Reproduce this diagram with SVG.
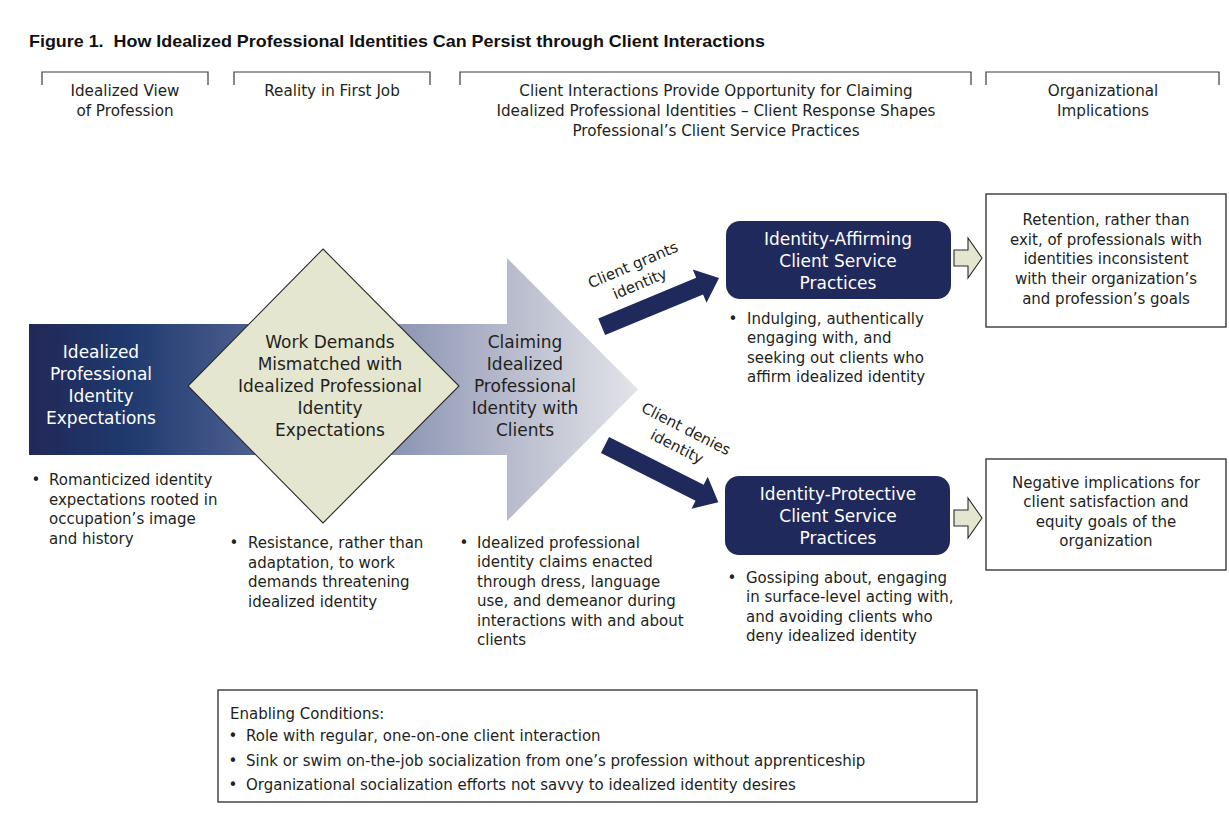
<svg xmlns="http://www.w3.org/2000/svg" width="1229" height="825" viewBox="0 0 1229 825">
  <defs>
    <style>
      .t{font-family:'DejaVu Sans','Liberation Sans',sans-serif;font-size:15px;fill:#231f20}
      .h{font-size:15.2px;text-anchor:middle}
      .m{text-anchor:middle}
      .n{font-size:17px;text-anchor:middle}
      .w{fill:#ffffff}
      .title{font-family:'Liberation Sans Narrow','Liberation Sans',Arial,sans-serif;font-weight:bold;font-size:17px;fill:#111}
      .rule{fill:none;stroke:#3a3a3a;stroke-width:1.2}
      .box{fill:#ffffff;stroke:#3a3a3a;stroke-width:1.4}
      .navy{fill:#1f295b}
      .khaki{fill:#e4e6d0;stroke:#2a2a2a;stroke-width:1.1}
    </style>
    <linearGradient id="flow" gradientUnits="userSpaceOnUse" x1="29" y1="0" x2="638" y2="0">
      <stop offset="0" stop-color="#222858"/>
      <stop offset="0.166" stop-color="#1f3a6e"/>
      <stop offset="0.33" stop-color="#45588a"/>
      <stop offset="0.494" stop-color="#6f7ca0"/>
      <stop offset="0.642" stop-color="#959db9"/>
      <stop offset="0.79" stop-color="#b7bbcc"/>
      <stop offset="1" stop-color="#e3e4e9"/>
    </linearGradient>
    <polygon id="thick-arrow" points="0,-9 106,-9 106,-18 127,0 106,18 106,9 0,9"/>
    <polygon id="hollow-arrow" points="0,-8 14,-8 14,-20 28,0 14,20 14,8 0,8"/>
  </defs>

  <rect width="1229" height="825" fill="#ffffff"/>

  <text class="title" x="29" y="47" textLength="736" lengthAdjust="spacingAndGlyphs" xml:space="preserve">Figure 1.  How Idealized Professional Identities Can Persist through Client Interactions</text>

  <!-- Column headings with bracket rules -->
  <g id="heading-idealized-view">
    <path class="rule" d="M42 85V72H208V85"/>
    <text class="t h" x="125" y="96">Idealized View</text>
    <text class="t h" x="125" y="116">of Profession</text>
  </g>
  <g id="heading-reality">
    <path class="rule" d="M234 85V72H430V85"/>
    <text class="t h" x="332" y="96">Reality in First Job</text>
  </g>
  <g id="heading-client-interactions">
    <path class="rule" d="M460 85V72H971V85"/>
    <text class="t h" x="716" y="96">Client Interactions Provide Opportunity for Claiming</text>
    <text class="t h" x="716" y="116">Idealized Professional Identities – Client Response Shapes</text>
    <text class="t h" x="716" y="136">Professional’s Client Service Practices</text>
  </g>
  <g id="heading-organizational">
    <path class="rule" d="M986 85V72H1219V85"/>
    <text class="t h" x="1103" y="96">Organizational</text>
    <text class="t h" x="1103" y="116">Implications</text>
  </g>

  <!-- Main flow band ending in a broad arrowhead -->
  <g id="flow-band">
    <polygon points="29,324 507,324 507,258 638,389.5 507,521 507,455 29,455" fill="url(#flow)"/>
  </g>

  <g id="node-idealized-expectations">
    <text class="t n w" x="101" y="358">Idealized</text>
    <text class="t n w" x="101" y="380">Professional</text>
    <text class="t n w" x="101" y="402">Identity</text>
    <text class="t n w" x="101" y="424">Expectations</text>
    <text class="t m" x="36" y="485">•</text>
    <text class="t" x="49" y="485">Romanticized identity</text>
    <text class="t" x="49" y="504.5">expectations rooted in</text>
    <text class="t" x="49" y="524">occupation’s image</text>
    <text class="t" x="49" y="543.5">and history</text>
  </g>

  <g id="node-work-demands">
    <polygon class="khaki" points="323,249 459,386 323,523 188,386"/>
    <text class="t n" x="330" y="348">Work Demands</text>
    <text class="t n" x="330" y="370">Mismatched with</text>
    <text class="t n" x="330" y="392">Idealized Professional</text>
    <text class="t n" x="330" y="414">Identity</text>
    <text class="t n" x="330" y="436">Expectations</text>
    <text class="t m" x="234" y="548">•</text>
    <text class="t" x="248" y="548">Resistance, rather than</text>
    <text class="t" x="248" y="567.5">adaptation, to work</text>
    <text class="t" x="248" y="587">demands threatening</text>
    <text class="t" x="248" y="606.5">idealized identity</text>
  </g>

  <g id="node-claiming">
    <text class="t n" x="525" y="348">Claiming</text>
    <text class="t n" x="525" y="370">Idealized</text>
    <text class="t n" x="525" y="392">Professional</text>
    <text class="t n" x="525" y="414">Identity with</text>
    <text class="t n" x="525" y="436">Clients</text>
    <text class="t m" x="464" y="547.5">•</text>
    <text class="t" x="477" y="547.5">Idealized professional</text>
    <text class="t" x="477" y="567">identity claims enacted</text>
    <text class="t" x="477" y="586.5">through dress, language</text>
    <text class="t" x="477" y="606">use, and demeanor during</text>
    <text class="t" x="477" y="625.5">interactions with and about</text>
    <text class="t" x="477" y="645">clients</text>
  </g>

  <g id="node-identity-affirming">
    <rect class="navy" x="726" y="221" width="225" height="78" rx="14"/>
    <text class="t n w" x="838" y="245">Identity-Affirming</text>
    <text class="t n w" x="838" y="267">Client Service</text>
    <text class="t n w" x="838" y="289">Practices</text>
    <text class="t m" x="733" y="323.5">•</text>
    <text class="t" x="747" y="323.5">Indulging, authentically</text>
    <text class="t" x="747" y="343">engaging with, and</text>
    <text class="t" x="747" y="362.5">seeking out clients who</text>
    <text class="t" x="747" y="382">affirm idealized identity</text>
  </g>

  <g id="node-identity-protective">
    <rect class="navy" x="725" y="476" width="225" height="79" rx="14"/>
    <text class="t n w" x="838" y="500">Identity-Protective</text>
    <text class="t n w" x="838" y="522">Client Service</text>
    <text class="t n w" x="838" y="544">Practices</text>
    <text class="t m" x="732" y="582.5">•</text>
    <text class="t" x="746" y="582.5">Gossiping about, engaging</text>
    <text class="t" x="746" y="602">in surface-level acting with,</text>
    <text class="t" x="746" y="621.5">and avoiding clients who</text>
    <text class="t" x="746" y="641">deny idealized identity</text>
  </g>

  <g id="node-retention">
    <rect class="box" x="986" y="194" width="240" height="133"/>
    <text class="t m" x="1106" y="225">Retention, rather than</text>
    <text class="t m" x="1106" y="244.7">exit, of professionals with</text>
    <text class="t m" x="1106" y="264.4">identities inconsistent</text>
    <text class="t m" x="1106" y="284.1">with their organization’s</text>
    <text class="t m" x="1106" y="303.8">and profession’s goals</text>
  </g>

  <g id="node-negative-implications">
    <rect class="box" x="986" y="459" width="240" height="111"/>
    <text class="t m" x="1106" y="487.5">Negative implications for</text>
    <text class="t m" x="1106" y="507">client satisfaction and</text>
    <text class="t m" x="1106" y="526.5">equity goals of the</text>
    <text class="t m" x="1106" y="546">organization</text>
  </g>

  <g id="node-enabling-conditions">
    <rect class="box" x="218" y="690" width="759" height="112"/>
    <text class="t" x="230" y="719">Enabling Conditions:</text>
    <text class="t m" x="233" y="741">•</text>
    <text class="t" x="246" y="741">Role with regular, one-on-one client interaction</text>
    <text class="t m" x="233" y="766">•</text>
    <text class="t" x="246" y="766">Sink or swim on-the-job socialization from one’s profession without apprenticeship</text>
    <text class="t m" x="233" y="790">•</text>
    <text class="t" x="246" y="790">Organizational socialization efforts not savvy to idealized identity desires</text>
  </g>

  <!-- Connectors -->
  <g id="connectors">
    <use href="#thick-arrow" class="navy" transform="translate(601.7,326.7) rotate(-22.5)"/>
    <use href="#thick-arrow" class="navy" transform="translate(605,445) rotate(26.8)"/>
    <g transform="translate(633,265) rotate(-23)">
      <text class="t m" x="0" y="5">Client grants</text>
      <text class="t m" x="-1" y="25">identity</text>
    </g>
    <g transform="translate(686,429) rotate(27)">
      <text class="t m" x="0" y="5">Client denies</text>
      <text class="t m" x="0" y="25">identity</text>
    </g>
    <use href="#hollow-arrow" class="khaki" transform="translate(954,258)"/>
    <use href="#hollow-arrow" class="khaki" transform="translate(954,518)"/>
  </g>
</svg>
